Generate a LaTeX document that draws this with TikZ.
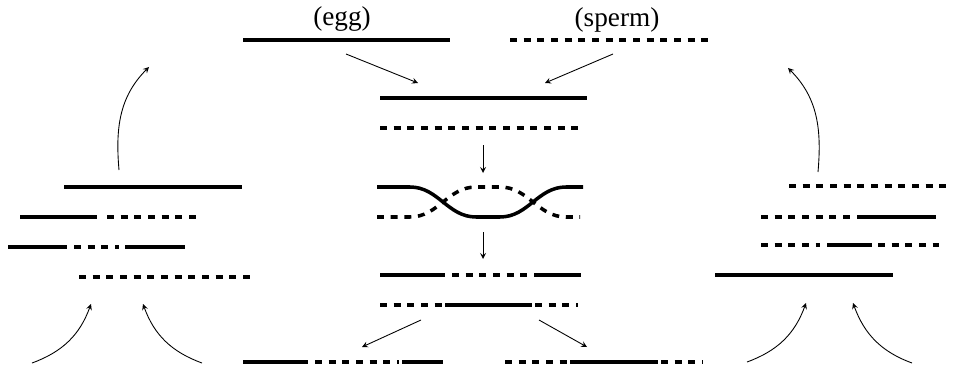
\documentclass[tikz,border=0pt]{standalone}
\usepackage{fontspec}
\setmainfont{Liberation Serif}
\begin{document}
\begin{tikzpicture}[>=stealth,x=0.02cm,y=0.02cm,
  mom/.style={line width=2pt},
  dad/.style={line width=2pt,dash pattern=on 3.98pt off 3.8pt},
  arr/.style={->,line width=0.5pt}]
\useasboundingbox (0,0) rectangle (959,-368);
% parents
\node (egg) at (342,-19) {\fontsize{15.5}{18}\selectfont (egg)};
\node (sperm) at (617,-20) {\fontsize{15.5}{18}\selectfont (sperm)};
\draw[mom](243,-40)--(450,-40);
\draw[dad](510,-40)--(710,-40);
% pair in the cell
\draw[mom](380,-98)--(587,-98);
\draw[dad](380,-128)--(580,-128);
% crossing over
\draw[mom](377,-187)--(410,-187)to[out=0,in=180](476,-217)--(500,-217)to[out=0,in=180](566,-187)--(583,-187);
\draw[dad](377,-217)--(410,-217)to[out=0,in=180](476,-187)--(500,-187)to[out=0,in=180](566,-217)--(580,-217);
% after the swap
\draw[mom](380,-275)--(445,-275);\draw[dad](452,-275)--(538,-275);\draw[mom](538,-275)--(581,-275);
\draw[dad](380,-305)--(445,-305);\draw[mom](445,-305)--(532,-305);\draw[dad](535,-305)--(578,-305);
% gametes
\draw[mom](243,-362)--(308,-362);\draw[dad](315,-362)--(399,-362);\draw[mom](402,-362)--(443,-362);
\draw[dad](505,-362)--(570,-362);\draw[mom](570,-362)--(658,-362);\draw[dad](661,-362)--(703,-362);
% left family
\draw[mom](64,-187)--(242,-187);
\draw[mom](20,-217)--(97,-217);\draw[dad](107,-217)--(197,-217);
\draw[mom](8,-247)--(67,-247);\draw[dad](74,-247)--(119,-247);\draw[mom](125,-247)--(185,-247);
\draw[dad](79,-277)--(252,-277);
% right family
\draw[dad](789,-186)--(953,-186);
\draw[dad](761,-217)--(853,-217);\draw[mom](857,-217)--(936,-217);
\draw[dad](761,-245)--(820,-245);\draw[mom](827,-245)--(872,-245);\draw[dad](878,-245)--(939,-245);
\draw[mom](715,-275)--(893,-275);
% arrows
\coordinate (ea) at (346,-54); \coordinate (eb) at (418,-83);
\coordinate (sa) at (613,-54); \coordinate (sb) at (545,-83);
\coordinate (ca) at (483,-145); \coordinate (cb) at (483,-173);
\coordinate (da) at (483,-232); \coordinate (db) at (483,-259);
\coordinate (la) at (421,-320); \coordinate (lb) at (362,-347);
\coordinate (ra) at (539,-320); \coordinate (rb) at (587,-347);
\coordinate (lu) at (119,-170); \coordinate (lt) at (149,-67);
\coordinate (ru) at (818,-172); \coordinate (rt) at (788,-68);
\coordinate (p1) at (32,-363); \coordinate (q1) at (91,-304);
\coordinate (p2) at (202,-363); \coordinate (q2) at (143,-304);
\coordinate (p3) at (747,-362); \coordinate (q3) at (806,-303);
\coordinate (p4) at (912,-363); \coordinate (q4) at (853,-303);
\draw[arr](ea)--(eb);
\draw[arr](sa)--(sb);
\draw[arr](ca)--(cb);
\draw[arr](da)--(db);
\draw[arr](la)--(lb);
\draw[arr](ra)--(rb);
\draw[arr](lu)to[out=95,in=225](lt);
\draw[arr](ru)to[out=85,in=-45](rt);
\draw[arr](p1)to[out=20,in=250](q1);
\draw[arr](p2)to[out=160,in=290](q2);
\draw[arr](p3)to[out=20,in=250](q3);
\draw[arr](p4)to[out=160,in=290](q4);
\end{tikzpicture}
\end{document}
